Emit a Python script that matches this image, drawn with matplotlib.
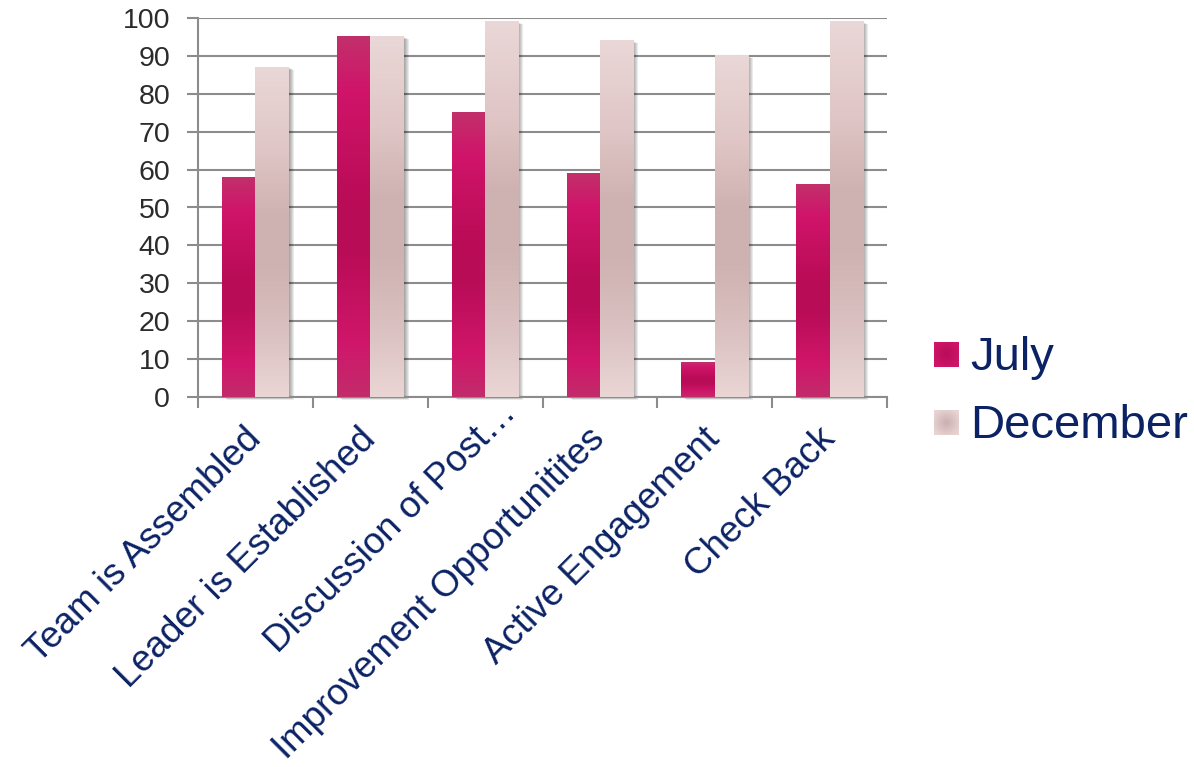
import numpy as np
import matplotlib
matplotlib.use("Agg")
import matplotlib.pyplot as plt
import matplotlib.transforms as mtransforms
from matplotlib.colors import LinearSegmentedColormap
from matplotlib.patches import Rectangle

# ---- data ----
categories = ["Team is Assembled", "Leader is Established", "Discussion of Post…",
              "Improvement Opportunitites", "Active Engagement", "Check Back"]
july = [58, 95, 75, 59, 9, 56]
december = [87, 95, 99, 94, 90, 99]
series_names = ["July", "December"]
y_ticks = list(range(0, 101, 10))

plt.rcParams['font.family'] = ['Liberation Sans', 'DejaVu Sans']

NAVY = '#0B2265'
GRID = '#8C8C8C'
XLABEL_SIZE = 26.5

# vertical "glossy" gradients (top -> bottom)
july_cmap = LinearSegmentedColormap.from_list('july', [
    (0.00, '#C2306B'), (0.15, '#D0146A'), (0.45, '#BA0C57'),
    (0.60, '#B90C57'), (0.85, '#D0166A'), (1.00, '#C22C6B')])
dec_cmap = LinearSegmentedColormap.from_list('dec', [
    (0.00, '#EAD7D7'), (0.25, '#E0C6C6'), (0.45, '#CFB1B1'),
    (0.60, '#CEB1B1'), (0.80, '#DAC0C0'), (1.00, '#EAD5D5')])

W, H = 1194, 767
fig = plt.figure(figsize=(W / 100, H / 100), dpi=100)
ax = fig.add_axes([198 / W, 1 - 397 / H, (887 - 198) / W, (397 - 18) / H])

x = np.arange(len(categories))
width = 0.29
grad = np.linspace(0, 1, 256).reshape(-1, 1)

# pixel size in data units (for the soft drop shadow)
px = 6 / (887 - 198)
py = 100 / (397 - 18)

for xs, vals, cmap in [(x - width / 2, july, july_cmap),
                       (x + width / 2, december, dec_cmap)]:
    bars = ax.bar(xs, vals, width, color='none', edgecolor='none', zorder=3)
    for b in bars:
        x0, bw, bh = b.get_x(), b.get_width(), b.get_height()
        ax.imshow(grad, cmap=cmap, extent=(x0, x0 + bw, 0, bh),
                  aspect='auto', zorder=3, interpolation='bilinear')
        for k in range(1, 6):
            ax.add_patch(Rectangle((x0 + k * px, -k * 0.5 * py), bw, bh,
                                   facecolor='black', edgecolor='none',
                                   alpha=0.08, zorder=2.5, clip_on=False))

ax.set_xlim(-0.5, len(categories) - 0.5)
ax.set_ylim(0, 100)

# axes styling
ax.set_axisbelow(True)
ax.yaxis.grid(True, color=GRID, lw=1.5)
for side in ('top', 'right'):
    ax.spines[side].set_visible(False)
for side in ('left', 'bottom'):
    ax.spines[side].set_color(GRID)
    ax.spines[side].set_linewidth(1.5)

ax.set_yticks(y_ticks)
ax.tick_params(axis='y', length=8, width=1.5, color=GRID, pad=12,
               labelsize=20.5, labelcolor='#2B2B2B')

# category boundaries get the tick marks; names are placed at the centres
ax.set_xticks([])
ax.set_xticks(np.arange(-0.5, len(categories), 1), minor=True)
ax.tick_params(axis='x', which='minor', length=8, width=1.5, color=GRID)

pad_in = 37 / 100  # label anchor below the axis line
diag = np.sqrt(0.5)
for xi, name in zip(x, categories):
    # a truncated name keeps its ellipsis hanging past the anchor
    extra = XLABEL_SIZE / 72 * diag if name.endswith('…') else 0.0
    off = mtransforms.ScaledTranslation(extra, -pad_in + extra, fig.dpi_scale_trans)
    ax.text(xi, 0, name, transform=ax.get_xaxis_transform() + off,
            rotation=45, rotation_mode='anchor', ha='right', va='center',
            fontsize=XLABEL_SIZE, color=NAVY, clip_on=False)

# legend with shaded swatches
yy, xx = np.mgrid[-1:1:64j, -1:1:64j]
radial = np.clip(np.sqrt(xx ** 2 + yy ** 2) / 1.2, 0, 1)
sw_july = LinearSegmentedColormap.from_list('swj', ['#B80C58', '#D0166A'])
sw_dec = LinearSegmentedColormap.from_list('swd', ['#CDB0B0', '#E8D4D4'])
for name, cm, top, base in [(series_names[0], sw_july, 342, 370),
                            (series_names[1], sw_dec, 410, 438)]:
    sax = fig.add_axes([934 / W, 1 - (top + 25) / H, 25 / W, 25 / H])
    sax.imshow(radial, cmap=cm, aspect='auto', interpolation='bilinear')
    sax.axis('off')
    fig.text(970 / W, 1 - base / H, name, fontsize=34, color=NAVY,
             ha='left', va='baseline')

fig.savefig('out.png', dpi=100)
